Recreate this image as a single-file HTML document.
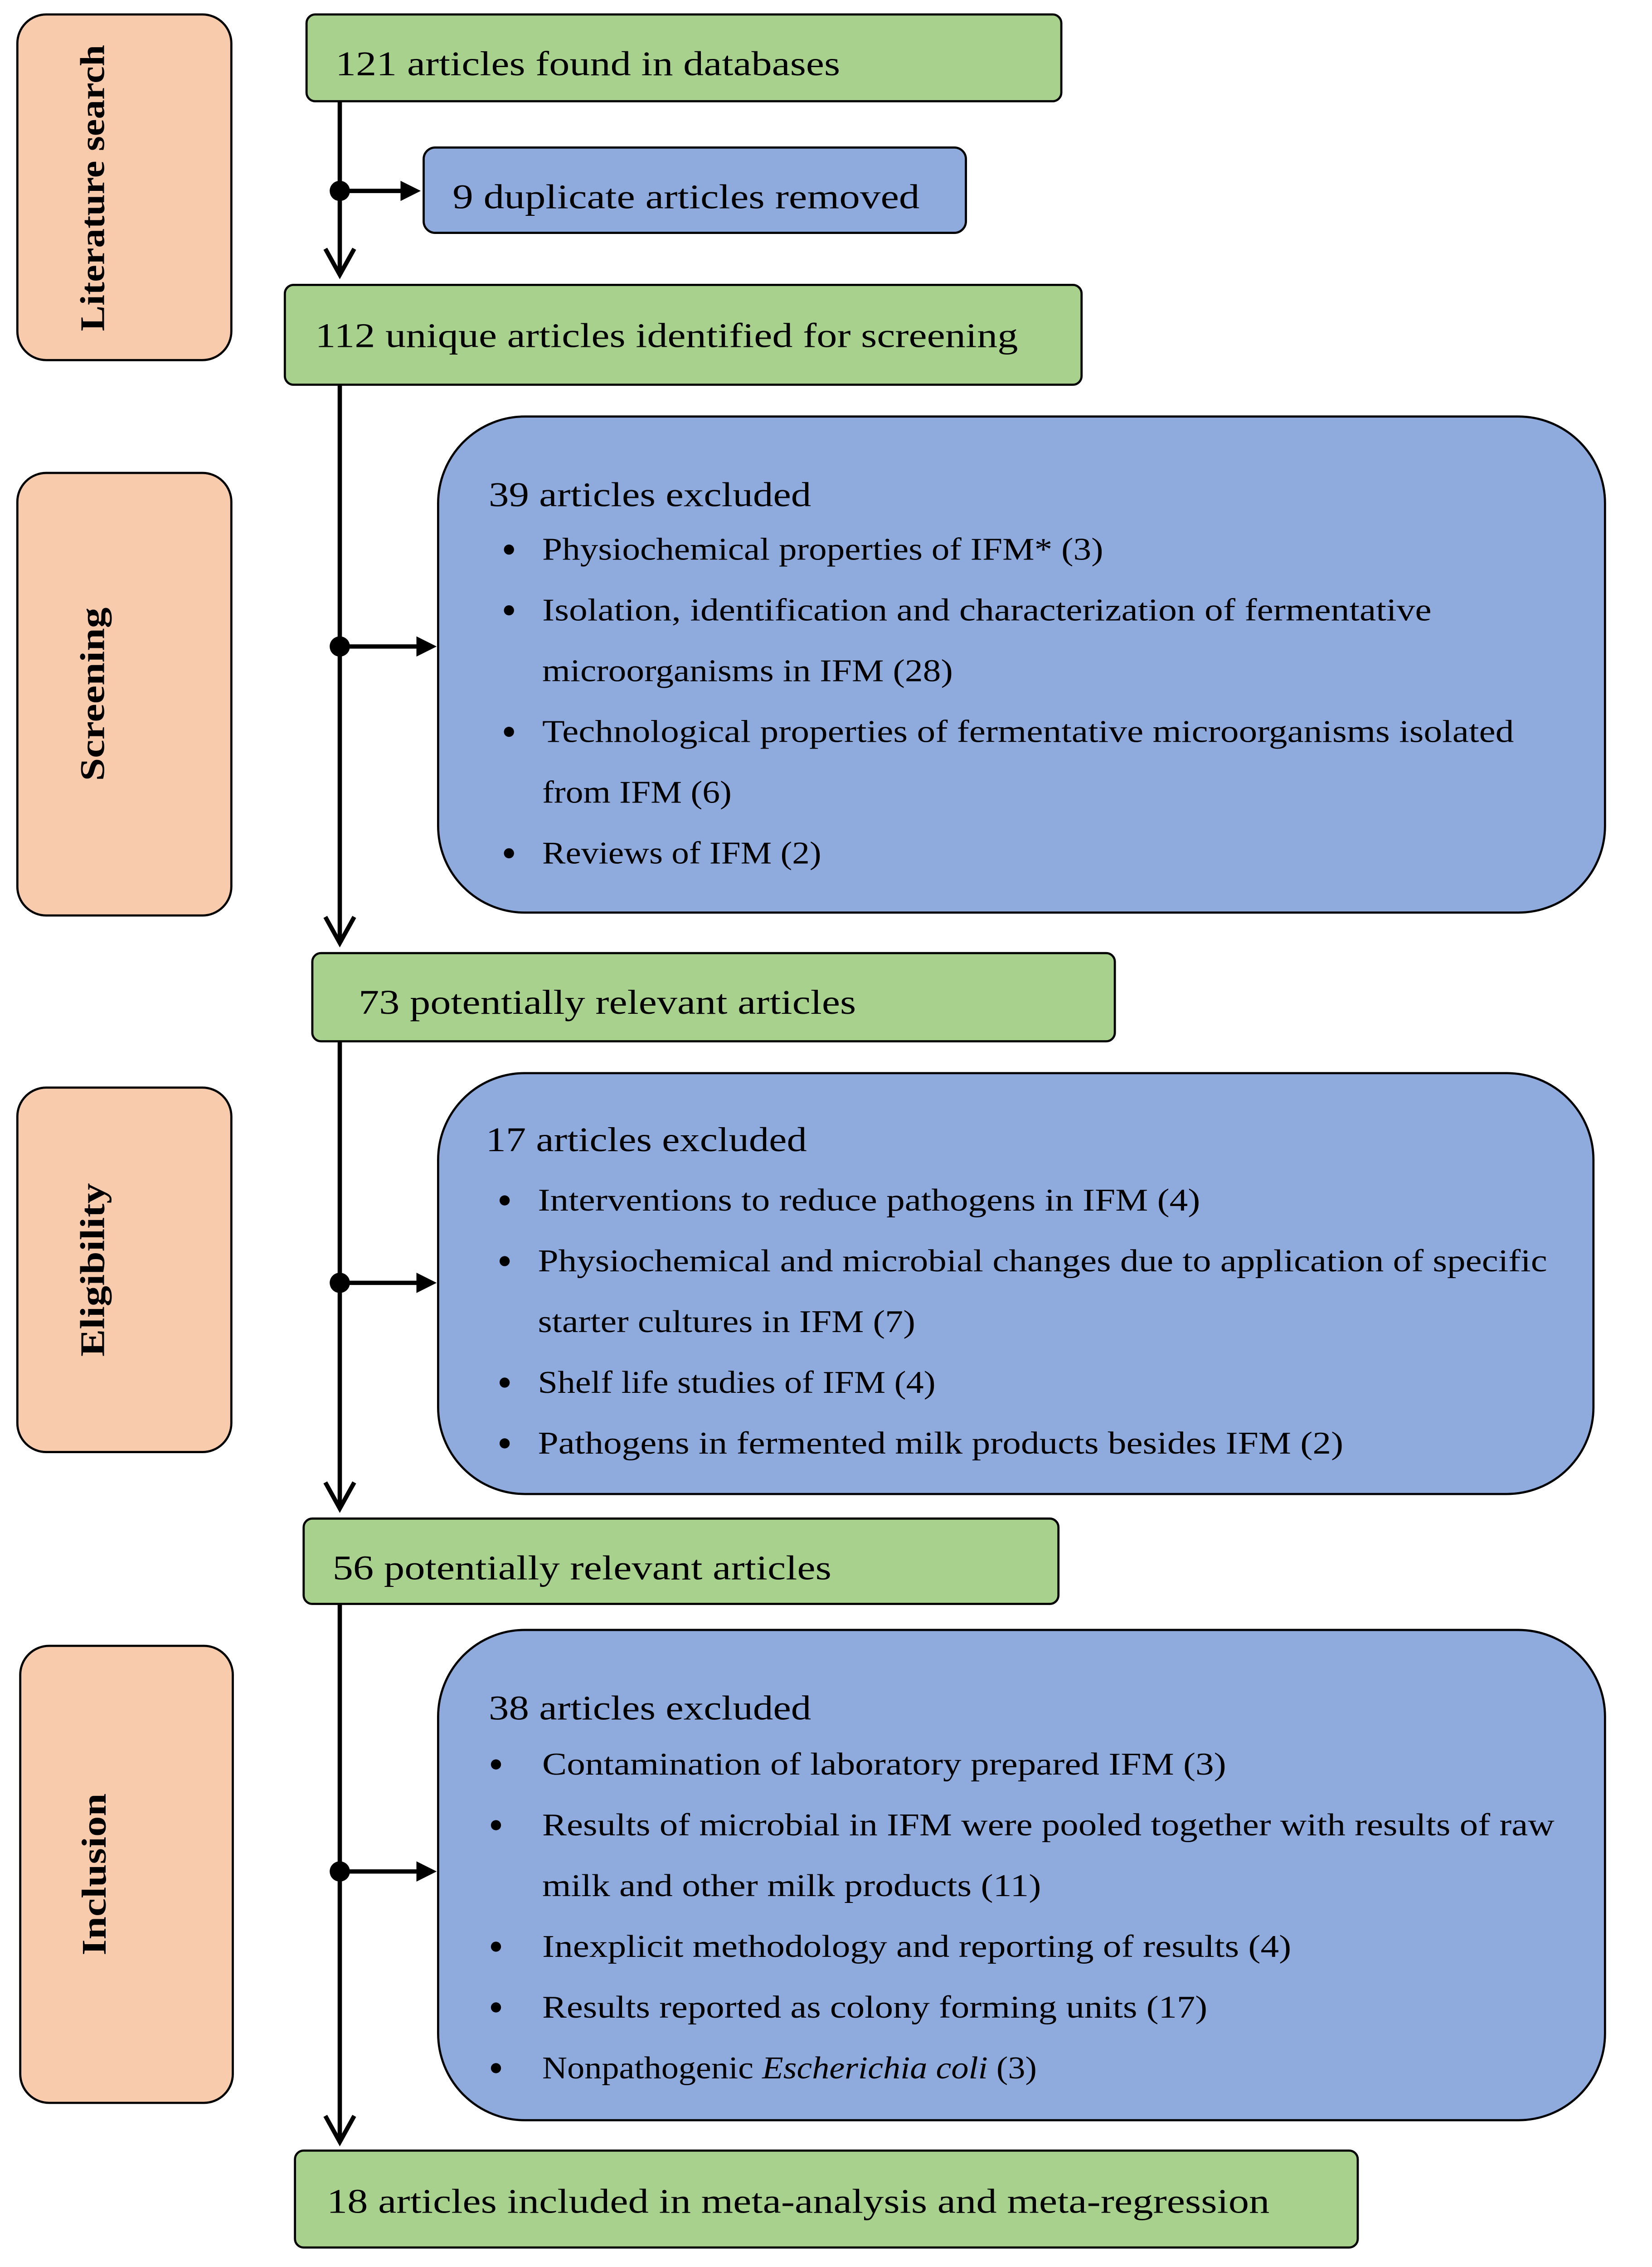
<!DOCTYPE html>
<html><head><meta charset="utf-8"><style>
html,body{margin:0;padding:0;background:#fff;width:3644px;height:5075px;overflow:hidden;}
svg{display:block;}
text{font-family:"Liberation Serif",serif;fill:#000;}
</style></head><body>
<svg width="3644" height="5075" viewBox="0 0 1142.5 1591" preserveAspectRatio="none" xmlns="http://www.w3.org/2000/svg">
<g stroke="#000" stroke-width="1.5">
<rect x="12" y="10" width="148" height="239" rx="20" fill="#F8CBAD"/>
<rect x="12" y="327" width="148" height="306" rx="20" fill="#F8CBAD"/>
<rect x="12" y="752" width="148" height="252" rx="20" fill="#F8CBAD"/>
<rect x="14" y="1138" width="147" height="316" rx="20" fill="#F8CBAD"/>
<rect x="212" y="10" width="522" height="60" rx="6" fill="#A9D18E"/>
<rect x="197" y="197" width="551" height="69" rx="6" fill="#A9D18E"/>
<rect x="216" y="659" width="555" height="61" rx="6" fill="#A9D18E"/>
<rect x="210" y="1050" width="522" height="59" rx="6" fill="#A9D18E"/>
<rect x="204" y="1487" width="735" height="67" rx="6" fill="#A9D18E"/>
<rect x="293" y="102" width="375" height="59" rx="8" fill="#8FAADC"/>
<rect x="303" y="288" width="807" height="343" rx="60" fill="#8FAADC"/>
<rect x="303" y="742" width="799" height="291" rx="60" fill="#8FAADC"/>
<rect x="303" y="1127" width="807" height="339" rx="60" fill="#8FAADC"/>
</g>
<g font-weight="bold" font-size="24" text-anchor="middle">
<text transform="translate(72,130) rotate(-90)" textLength="198" lengthAdjust="spacingAndGlyphs">Literature search</text>
<text transform="translate(72,480) rotate(-90)" textLength="120" lengthAdjust="spacingAndGlyphs">Screening</text>
<text transform="translate(72,878) rotate(-90)" textLength="120" lengthAdjust="spacingAndGlyphs">Eligibility</text>
<text transform="translate(73,1296) rotate(-90)" textLength="112" lengthAdjust="spacingAndGlyphs">Inclusion</text>
</g>
<g stroke="#000" stroke-width="3" fill="none">
<line x1="235" y1="70" x2="235" y2="190"/>
<line x1="235" y1="266" x2="235" y2="652"/>
<line x1="235" y1="720" x2="235" y2="1043"/>
<line x1="235" y1="1109" x2="235" y2="1481"/>
<polyline points="225,172 235,190 245,172"/>
<polyline points="225,634 235,652 245,634"/>
<polyline points="225,1025 235,1043 245,1025"/>
<polyline points="225,1463 235,1481 245,1463"/>
<line x1="235" y1="132" x2="280" y2="132"/>
<line x1="235" y1="447" x2="290" y2="447"/>
<line x1="235" y1="887" x2="290" y2="887"/>
<line x1="235" y1="1294" x2="290" y2="1294"/>
</g>
<g fill="#000">
<circle cx="235" cy="132" r="7"/><circle cx="235" cy="447" r="7"/><circle cx="235" cy="887" r="7"/><circle cx="235" cy="1294" r="7"/>
<polygon points="291,132 277,125 277,139"/>
<polygon points="302,447 288,440 288,454"/>
<polygon points="302,887 288,880 288,894"/>
<polygon points="302,1294 288,1287 288,1301"/>
</g>
<g font-size="24">
<text x="232" y="52" textLength="349" lengthAdjust="spacingAndGlyphs">121 articles found in databases</text>
<text x="313" y="144" textLength="323" lengthAdjust="spacingAndGlyphs">9 duplicate articles removed</text>
<text x="218" y="240" textLength="486" lengthAdjust="spacingAndGlyphs">112 unique articles identified for screening</text>
<text x="248" y="701" textLength="344" lengthAdjust="spacingAndGlyphs">73 potentially relevant articles</text>
<text x="230" y="1092" textLength="345" lengthAdjust="spacingAndGlyphs">56 potentially relevant articles</text>
<text x="226" y="1530" textLength="652" lengthAdjust="spacingAndGlyphs">18 articles included in meta-analysis and meta-regression</text>
<text x="338" y="350" textLength="223" lengthAdjust="spacingAndGlyphs">39 articles excluded</text>
<text x="336" y="796" textLength="222" lengthAdjust="spacingAndGlyphs">17 articles excluded</text>
<text x="338" y="1189" textLength="223" lengthAdjust="spacingAndGlyphs">38 articles excluded</text>
</g>
<g font-size="22">
<text x="375" y="387" textLength="388" lengthAdjust="spacingAndGlyphs">Physiochemical properties of IFM* (3)</text>
<text x="375" y="429" textLength="615" lengthAdjust="spacingAndGlyphs">Isolation, identification and characterization of fermentative</text>
<text x="375" y="471" textLength="284" lengthAdjust="spacingAndGlyphs">microorganisms in IFM (28)</text>
<text x="375" y="513" textLength="672" lengthAdjust="spacingAndGlyphs">Technological properties of fermentative microorganisms isolated</text>
<text x="375" y="555" textLength="131" lengthAdjust="spacingAndGlyphs">from IFM (6)</text>
<text x="375" y="597" textLength="193" lengthAdjust="spacingAndGlyphs">Reviews of IFM (2)</text>
<text x="372" y="837" textLength="458" lengthAdjust="spacingAndGlyphs">Interventions to reduce pathogens in IFM (4)</text>
<text x="372" y="879" textLength="698" lengthAdjust="spacingAndGlyphs">Physiochemical and microbial changes due to application of specific</text>
<text x="372" y="921" textLength="261" lengthAdjust="spacingAndGlyphs">starter cultures in IFM (7)</text>
<text x="372" y="963" textLength="275" lengthAdjust="spacingAndGlyphs">Shelf life studies of IFM (4)</text>
<text x="372" y="1005" textLength="557" lengthAdjust="spacingAndGlyphs">Pathogens in fermented milk products besides IFM (2)</text>
<text x="375" y="1227" textLength="473" lengthAdjust="spacingAndGlyphs">Contamination of laboratory prepared IFM (3)</text>
<text x="375" y="1269" textLength="700" lengthAdjust="spacingAndGlyphs">Results of microbial in IFM were pooled together with results of raw</text>
<text x="375" y="1311" textLength="345" lengthAdjust="spacingAndGlyphs">milk and other milk products (11)</text>
<text x="375" y="1353" textLength="518" lengthAdjust="spacingAndGlyphs">Inexplicit methodology and reporting of results (4)</text>
<text x="375" y="1395" textLength="460" lengthAdjust="spacingAndGlyphs">Results reported as colony forming units (17)</text>
<text x="375" y="1437" textLength="342" lengthAdjust="spacingAndGlyphs">Nonpathogenic <tspan font-style="italic">Escherichia coli</tspan> (3)</text>
</g>
<g fill="#000">
<circle cx="352" cy="380" r="3.5"/><circle cx="352" cy="422" r="3.5"/><circle cx="352" cy="506" r="3.5"/><circle cx="352" cy="590" r="3.5"/>
<circle cx="349" cy="830" r="3.5"/><circle cx="349" cy="872" r="3.5"/><circle cx="349" cy="956" r="3.5"/><circle cx="349" cy="998" r="3.5"/>
<circle cx="343" cy="1220" r="3.5"/><circle cx="343" cy="1262" r="3.5"/><circle cx="343" cy="1346" r="3.5"/><circle cx="343" cy="1388" r="3.5"/><circle cx="343" cy="1430" r="3.5"/>
</g>
</svg>
</body></html>
